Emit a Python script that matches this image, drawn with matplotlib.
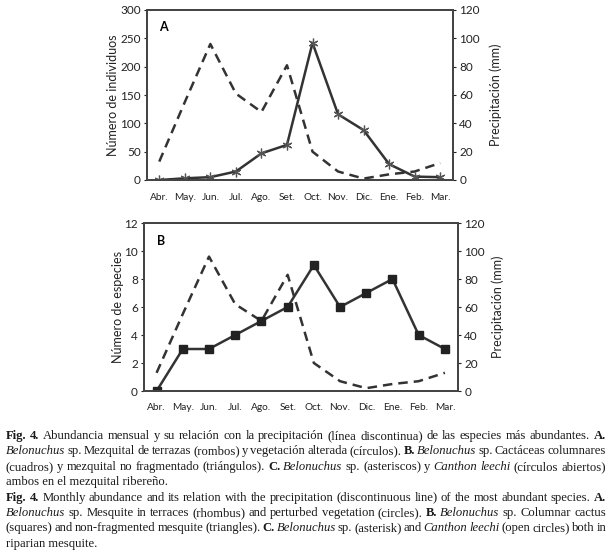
import matplotlib
matplotlib.use("Agg")
import matplotlib.pyplot as plt
from matplotlib.ticker import FixedLocator

months = ["Abr.", "May.", "Jun.", "Jul.", "Ago.", "Set.", "Oct.", "Nov.", "Dic.", "Ene.", "Feb.", "Mar."]
individuos = [0, 3, 5, 15, 47, 62, 242, 116, 88, 28, 6, 5]
precip_a = [13, 55, 96, 61, 48, 81, 20, 6, 1, 4, 6, 12]
especies = [0, 3, 3, 4, 5, 6, 9, 6, 7, 8, 4, 3]
precip_b = [13, 55, 96, 62, 50, 83, 20, 7, 2, 5, 7, 13]

W, H = 614, 556
fig = plt.figure(figsize=(W / 100, H / 100), dpi=100)
SANS = ["Lato", "DejaVu Sans"]
SERIF = ["Liberation Serif", "DejaVu Serif"]
col = "#333333"
x = list(range(len(months)))


def box(l, r, t, b):
    return [l / W, 1 - b / H, (r - l) / W, (b - t) / H]


def setup(ax, ax2, ymax, ystep, label, lpad, rpad):
    ax.set_xlim(-0.48, 11.5)
    ax.set_ylim(0, ymax)
    ax.yaxis.set_major_locator(FixedLocator(list(range(0, ymax + 1, ystep))))
    ax2.set_ylim(0, 120)
    ax2.yaxis.set_major_locator(FixedLocator(list(range(0, 121, 20))))
    ax.set_xticks(x)
    ax.set_xticklabels(months, fontsize=7.3, family=SANS, color="#222222")
    ax.tick_params(axis="x", length=0, pad=9)
    ax.tick_params(axis="y", length=2.5, width=0.8, labelsize=8.5, pad=2, colors="#222222")
    ax2.tick_params(axis="y", length=2.5, width=0.8, labelsize=8.5, pad=2, colors="#222222")
    for t in ax.get_yticklabels() + ax2.get_yticklabels():
        t.set_family(SANS)
    ax.set_ylabel(label, fontsize=9, family=SANS, color="#222222", labelpad=lpad)
    ax2.set_ylabel("Precipitación (mm)", fontsize=9, family=SANS, color="#222222", labelpad=rpad)
    for a in (ax, ax2):
        for s in a.spines.values():
            s.set_linewidth(1.3)
            s.set_color("#444444")


# Panel A
axA = fig.add_axes(box(147, 453, 10, 180))
axA2 = axA.twinx()
axA2.plot(x, precip_a, color=col, lw=1.8, dashes=(3.8, 2.4))
axA.plot(x, individuos, color=col, lw=1.8, marker=(6, 2, 0), ms=7, mew=0.9, mec="#555555")
setup(axA, axA2, 300, 50, "Número de individuos", 1, 7)
axA.text(0.04, 0.90, "A", transform=axA.transAxes, fontsize=9, fontweight="bold", family=SANS, va="center")
axA.set_zorder(axA2.get_zorder() + 1)
axA.patch.set_visible(False)

# Panel B
axB = fig.add_axes(box(144, 458, 223, 391))
axB2 = axB.twinx()
axB2.plot(x, precip_b, color=col, lw=1.8, dashes=(3.8, 2.4))
axB.plot(x, especies, color=col, lw=1.8, marker="s", ms=6, mfc="#222222", mec="#222222")
setup(axB, axB2, 12, 2, "Número de especies", 0, 5)
axB.text(0.04, 0.89, "B", transform=axB.transAxes, fontsize=9, fontweight="bold", family=SANS, va="center")
axB.set_zorder(axB2.get_zorder() + 1)
axB.patch.set_visible(False)

# Caption (justified lines)
N, B_, I_ = "normal", "bold", "italic"
caption = [
    ([("Fig. 4.", B_), ("Abundancia mensual y su relación con la precipitación (línea discontinua) de las especies más abundantes.", N), ("A.", B_)], True),
    ([("Belonuchus", I_), ("sp. Mezquital de terrazas (rombos) y vegetación alterada (círculos).", N), ("B.", B_), ("Belonuchus", I_), ("sp. Cactáceas columnares", N)], True),
    ([("(cuadros) y mezquital no fragmentado (triángulos).", N), ("C.", B_), ("Belonuchus", I_), ("sp. (asteriscos) y", N), ("Canthon leechi", I_), ("(círculos abiertos)", N)], True),
    ([("ambos en el mezquital ribereño.", N)], False),
    ([("Fig. 4.", B_), ("Monthly abundance and its relation with the precipitation (discontinuous line) of the most abundant species.", N), ("A.", B_)], True),
    ([("Belonuchus", I_), ("sp. Mesquite in terraces (rhombus) and perturbed vegetation (circles).", N), ("B.", B_), ("Belonuchus", I_), ("sp. Columnar cactus", N)], True),
    ([("(squares) and non-fragmented mesquite (triangles).", N), ("C.", B_), ("Belonuchus", I_), ("sp. (asterisk) and", N), ("Canthon leechi", I_), ("(open circles) both in", N)], True),
    ([("riparian mesquite.", N)], False),
]

renderer = fig.canvas.get_renderer()
x0, x1 = 6, 606
y0, dy = 436, 15.4
fs = 9.1
for i, (segs, justify) in enumerate(caption):
    ypix = y0 + i * dy
    kw0 = dict(fontsize=fs, family=SERIF, color="#1a1a1a", va="center", ha="left")
    if not justify:
        fig.text(x0 / W, 1 - ypix / H, " ".join(s for s, _ in segs), **kw0)
        continue
    words = []
    for txt, style in segs:
        for w in txt.split(" "):
            words.append((w, style))
    texts = []
    for w, style in words:
        kw = dict(kw0)
        if style == B_:
            kw["fontweight"] = "bold"
        elif style == I_:
            kw["fontstyle"] = "italic"
        texts.append(fig.text(0, 1 - ypix / H, w, **kw))
    widths = [t.get_window_extent(renderer).width for t in texts]
    gap = (x1 - x0 - sum(widths)) / (len(texts) - 1)
    cx = x0
    for t, wd in zip(texts, widths):
        t.set_x(cx / W)
        cx += wd + gap

fig.savefig("out.png", dpi=100)
